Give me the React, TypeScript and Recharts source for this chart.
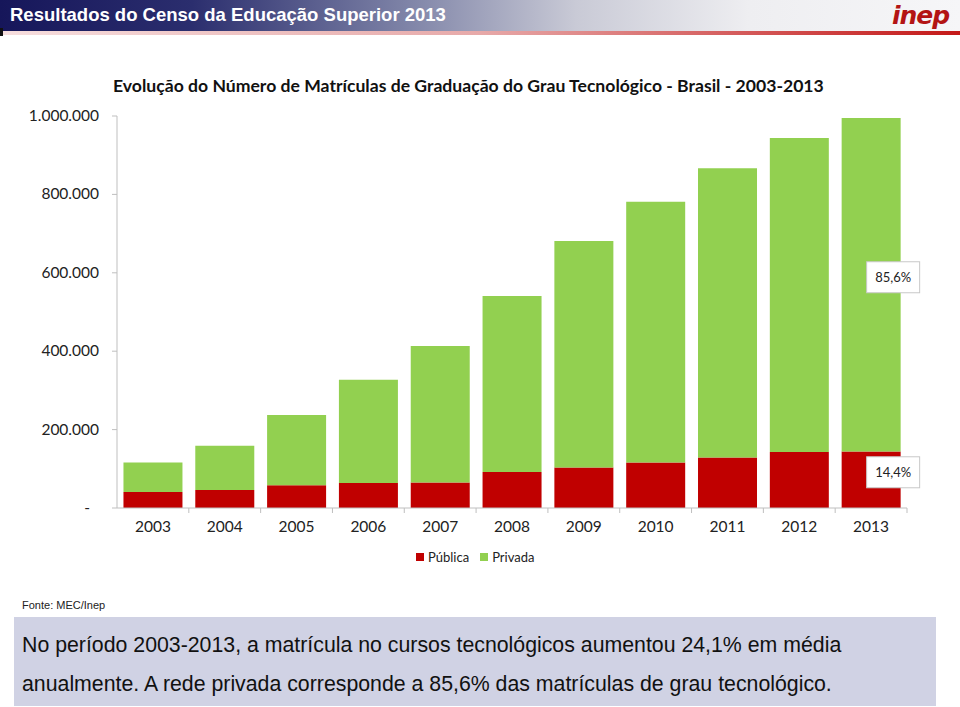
import { BarChart, Bar, XAxis, YAxis, LabelList } from 'recharts'

const years = ['2003', '2004', '2005', '2006', '2007', '2008', '2009', '2010', '2011', '2012', '2013']
const publica = [41000, 46000, 58000, 64000, 65000, 92000, 103000, 116000, 129000, 143000, 144000]
const privada = [75000, 113000, 179000, 263000, 348000, 449000, 578000, 665000, 738000, 801000, 851000]
const yTicks = [0, 200000, 400000, 600000, 800000, 1000000]
const shareLabels = { privada: '85,6%', publica: '14,4%' }

const data = years.map((year, i) => ({ year, publica: publica[i], privada: privada[i] }))

const RED = '#c00000'
const GREEN = '#92d050'
const AXIS = '#bfbfbf'
const FONT = 'Lato, "Open Sans", sans-serif'

const CHART_W = 960
const CHART_H = 560
const MARGIN = { top: 116, right: 53, bottom: 22, left: 0 }
const Y_W = 117
const BAND = (CHART_W - MARGIN.right - Y_W) / years.length

const fmt = (v: number) => String(v).replace(/\B(?=(\d{3})+(?!\d))/g, '.')

const YTick = ({ x, y, payload }: any) => {
  const zero = payload.value === 0
  return (
    <text x={zero ? x - 9 : x} y={y} dy={5} textAnchor="end" fontSize={15.5} fill="#222" fontFamily={FONT}>
      {zero ? '-' : fmt(payload.value)}
    </text>
  )
}

const XTick = ({ x, y, payload }: any) => (
  <g>
    <line x1={x + BAND / 2} x2={x + BAND / 2} y1={y - 8} y2={y - 3} stroke={AXIS} />
    <text x={x} y={y} dy={16} textAnchor="middle" fontSize={15.5} fill="#222" fontFamily={FONT}>
      {payload.value}
    </text>
  </g>
)

const shareBox = (text: string, offsetY: number) => (props: any) => {
  const { x, y, width, height, index } = props
  if (index !== years.length - 1) return null
  const bx = x + width - 34
  const cy = y + height / 2 + offsetY
  return (
    <g>
      <rect x={bx} y={cy - 16} width={53} height={31} fill="#fff" stroke="#c8c8c8" />
      <text x={bx + 26.5} y={cy} dy={4} textAnchor="middle" fontSize={13} fill="#222" fontFamily={FONT}>
        {text}
      </text>
    </g>
  )
}

export default function App() {
  return (
    <div style={{ position: 'absolute', left: 0, top: 0, width: 960, height: 707, background: '#fff', overflow: 'hidden', fontFamily: 'Arial, "Liberation Sans", sans-serif' }}>
      <div style={{ position: 'absolute', left: 0, top: 0, width: 960, height: 31, background: 'linear-gradient(90deg, #16165a 0%, #2b2e6e 20%, #7d82a6 42%, #c9cad6 60%, #eeeef1 78%, #f6f6f8 100%)' }} />
      <div style={{ position: 'absolute', left: 0, top: 31, width: 960, height: 4, background: 'linear-gradient(90deg, #f6dede 0%, #e7a9a9 50%, #c41818 100%)' }} />
      <div style={{ position: 'absolute', left: 0, top: 28, width: 3, height: 8, background: '#111' }} />
      <div style={{ position: 'absolute', left: 10, top: 4, color: '#fff', fontWeight: 'bold', fontSize: 18.5, whiteSpace: 'nowrap' }}>
        Resultados do Censo da Educação Superior 2013
      </div>
      <div style={{ position: 'absolute', left: 892, top: 1, color: '#b31414', fontWeight: 900, fontSize: 25, fontStyle: 'italic', letterSpacing: -1, fontFamily: '"DejaVu Sans", sans-serif' }}>
        inep
      </div>

      <div style={{ position: 'absolute', left: 113, top: 75, fontFamily: FONT, fontWeight: 'bold', fontSize: 17.6, color: '#111', whiteSpace: 'nowrap' }}>
        Evolução do Número de Matrículas de Graduação do Grau Tecnológico - Brasil - 2003-2013
      </div>

      <div style={{ position: 'absolute', left: 0, top: 0 }}>
        <BarChart width={CHART_W} height={CHART_H} data={data} margin={MARGIN} barCategoryGap="9%">
          <XAxis dataKey="year" height={30} stroke={AXIS} tickLine={false} tick={<XTick />} interval={0} />
          <YAxis width={Y_W} domain={[0, 1000000]} ticks={yTicks} stroke={AXIS} tickSize={5} tickMargin={13} tick={<YTick />} />
          <Bar dataKey="publica" stackId="a" fill={RED} isAnimationActive={false}>
            <LabelList dataKey="publica" content={shareBox(shareLabels.publica, -7)} />
          </Bar>
          <Bar dataKey="privada" stackId="a" fill={GREEN} isAnimationActive={false}>
            <LabelList dataKey="privada" content={shareBox(shareLabels.privada, -7)} />
          </Bar>
        </BarChart>
      </div>

      <div style={{ position: 'absolute', left: 416, top: 549, display: 'flex', alignItems: 'center', fontFamily: FONT, fontSize: 13, color: '#222' }}>
        <span style={{ width: 8, height: 8, background: RED, marginRight: 4 }} />
        <span style={{ marginRight: 11 }}>Pública</span>
        <span style={{ width: 8, height: 8, background: GREEN, marginRight: 4 }} />
        <span>Privada</span>
      </div>

      <div style={{ position: 'absolute', left: 22, top: 599, fontSize: 11, color: '#222' }}>Fonte: MEC/Inep</div>

      <div style={{ position: 'absolute', left: 14, top: 617, width: 922, height: 89, background: '#d0d2e4' }}>
        <div style={{ position: 'absolute', left: 8, top: 9, fontSize: 21.3, lineHeight: '39px', color: '#111', whiteSpace: 'nowrap' }}>
          No período 2003-2013, a matrícula no cursos tecnológicos aumentou 24,1% em média
          <br />
          anualmente. A rede privada corresponde a 85,6% das matrículas de grau tecnológico.
        </div>
      </div>
    </div>
  )
}
